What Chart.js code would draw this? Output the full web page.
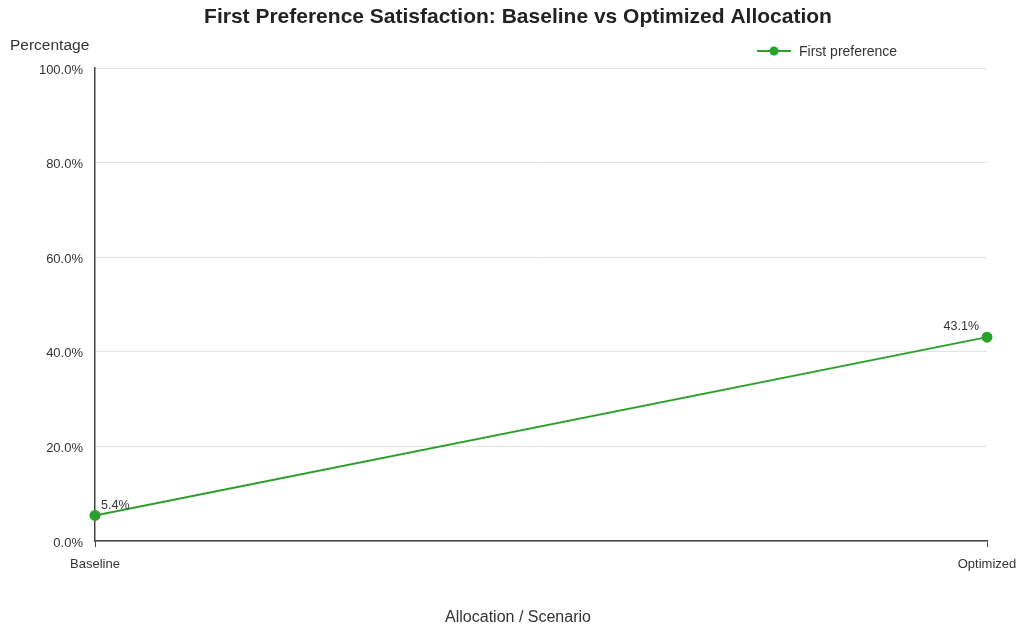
<!DOCTYPE html>
<html>
<head>
<meta charset="utf-8">
<script src="https://cdn.jsdelivr.net/npm/chart.js@4"></script>
<style>
  html, body { margin: 0; padding: 0; background: #fff; }
  #wrap { width: 1016px; height: 628px; }
</style>
</head>
<body>
<div id="wrap"><canvas id="prefChart" width="1016" height="628"></canvas></div>
<script>
// --- Data ---
const categories = ['Baseline', 'Optimized'];
const firstPreference = [5.4, 43.1];
const yTicks = [0, 20, 40, 60, 80, 100];

const green = '#2ca02c';
const textColor = '#333333';
const fontFamily = '"Liberation Sans", Arial, sans-serif';

// draws title, axis captions, legend and point labels
const decorations = {
    id: 'decorations',
    afterDraw(chart) {
        const ctx = chart.ctx;
        ctx.save();
        // title
        ctx.fillStyle = '#222';
        ctx.font = 'bold 21px ' + fontFamily;
        ctx.textAlign = 'center';
        ctx.textBaseline = 'middle';
        ctx.fillText('First Preference Satisfaction: Baseline vs Optimized Allocation', 518, 17);

        // x axis caption, centred on the canvas
        ctx.fillStyle = textColor;
        ctx.font = '16px ' + fontFamily;
        ctx.fillText('Allocation / Scenario', 518, 618);

        // y axis caption, horizontal above the axis
        ctx.font = '15.5px ' + fontFamily;
        ctx.textAlign = 'left';
        ctx.fillText('Percentage', 10, 46);

        // legend
        ctx.strokeStyle = green;
        ctx.lineWidth = 2;
        ctx.beginPath();
        ctx.moveTo(757, 51);
        ctx.lineTo(791, 51);
        ctx.stroke();
        ctx.fillStyle = green;
        ctx.beginPath();
        ctx.arc(774, 51, 4.5, 0, Math.PI * 2);
        ctx.fill();
        ctx.fillStyle = textColor;
        ctx.font = '14px ' + fontFamily;
        ctx.fillText('First preference', 799, 52);

        // point labels
        const meta = chart.getDatasetMeta(0);
        ctx.font = '12.5px ' + fontFamily;
        ctx.textBaseline = 'bottom';
        meta.data.forEach((pt, i) => {
            const label = firstPreference[i].toFixed(1) + '%';
            if (i === meta.data.length - 1) {
                ctx.textAlign = 'right';
                ctx.fillText(label, pt.x - 8, pt.y - 4);
            } else {
                ctx.textAlign = 'left';
                ctx.fillText(label, pt.x + 6, pt.y - 4);
            }
        });
        ctx.restore();
    }
};

const ctx = document.getElementById('prefChart').getContext('2d');
new Chart(ctx, {
    type: 'line',
    data: {
        labels: categories,
        datasets: [{
            label: 'First preference',
            data: firstPreference,
            borderColor: green,
            backgroundColor: green,
            borderWidth: 2,
            pointRadius: 4.5,
            pointHoverRadius: 5,
            tension: 0
        }]
    },
    options: {
        responsive: false,
        animation: false,
        layout: { padding: { top: 68, right: 29, left: 0, bottom: 0 } },
        plugins: {
            legend: { display: false },
            title: { display: false },
            tooltip: { enabled: false }
        },
        scales: {
            x: {
                offset: false,
                grid: { drawOnChartArea: false, drawTicks: true, tickLength: 6, color: '#444' },
                border: { color: '#444', width: 1.5 },
                ticks: { color: textColor, font: { family: fontFamily, size: 13 }, padding: 10, maxRotation: 0 },
                afterFit(scale) {
                    scale.height = 87;
                    scale.paddingLeft = 0;
                    scale.paddingRight = 0;
                }
            },
            y: {
                min: 0,
                max: 100,
                afterBuildTicks(scale) { scale.ticks = yTicks.map(v => ({ value: v })); },
                grid: { color: '#e3e3e3', drawTicks: false },
                border: { color: '#444', width: 1.5 },
                ticks: {
                    color: textColor,
                    font: { family: fontFamily, size: 13 },
                    padding: 12,
                    labelOffset: 2,
                    callback: v => v.toFixed(1) + '%'
                },
                afterFit(scale) {
                    scale.width = 95;
                    scale.paddingTop = 0;
                    scale.paddingBottom = 0;
                }
            }
        }
    },
    plugins: [decorations]
});
</script>
</body>
</html>
